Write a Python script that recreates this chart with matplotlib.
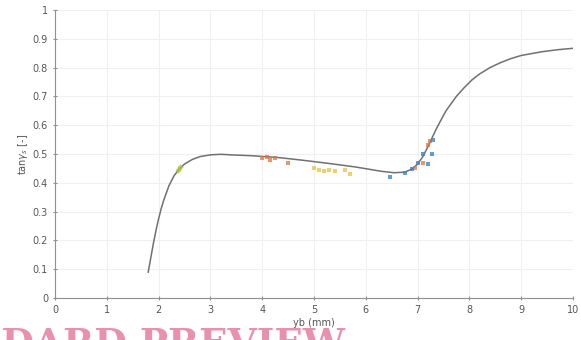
import matplotlib.pyplot as plt

# model curve
curve_x = [1.80, 1.85, 1.90, 1.95, 2.00, 2.05, 2.10, 2.15, 2.20, 2.30, 2.40, 2.50, 2.65, 2.8, 3.0, 3.2, 3.4, 3.8, 4.3, 4.8, 5.3, 5.8, 6.3, 6.55, 6.75, 6.9, 7.0, 7.1, 7.2, 7.37, 7.55, 7.75, 7.9, 8.05, 8.2, 8.4, 8.6, 8.8, 9.0, 9.4, 9.7, 10.0]
curve_y = [0.09, 0.14, 0.19, 0.235, 0.275, 0.31, 0.34, 0.365, 0.39, 0.425, 0.448, 0.465, 0.481, 0.491, 0.497, 0.499, 0.497, 0.494, 0.488, 0.478, 0.467, 0.455, 0.44, 0.435, 0.437, 0.448, 0.465, 0.49, 0.525, 0.59, 0.65, 0.70, 0.73, 0.757, 0.778, 0.800, 0.817, 0.831, 0.842, 0.855, 0.862, 0.867]

# measured points
green_x = [2.38, 2.42]
green_y = [0.445, 0.455]
orange_x = [4.0, 4.1, 4.15, 4.25, 4.5, 6.95, 7.1, 7.2, 7.25]
orange_y = [0.485, 0.49, 0.48, 0.485, 0.47, 0.45, 0.47, 0.53, 0.545]
yellow_x = [5.0, 5.1, 5.2, 5.3, 5.4, 5.6, 5.7]
yellow_y = [0.45, 0.445, 0.44, 0.445, 0.44, 0.445, 0.43]
blue_x = [6.47, 6.76, 6.89, 7.0, 7.1, 7.28, 7.3, 7.2]
blue_y = [0.42, 0.434, 0.448, 0.47, 0.50, 0.50, 0.55, 0.465]

fig = plt.figure(figsize=(5.81, 3.40), dpi=100)
ax = fig.add_axes([0.0947, 0.1235, 0.8913, 0.8471])

ax.plot(curve_x, curve_y, color="#707070", linewidth=1.1, zorder=2)
ax.scatter(green_x, green_y, s=10, marker="D", color="#A8C43A", alpha=0.8, zorder=3, linewidths=0)
ax.scatter(orange_x, orange_y, s=9, marker="s", color="#E8703A", alpha=0.75, zorder=3, linewidths=0)
ax.scatter(yellow_x, yellow_y, s=9, marker="s", color="#EDC040", alpha=0.75, zorder=3, linewidths=0)
ax.scatter(blue_x, blue_y, s=9, marker="s", color="#3A86D0", alpha=0.8, zorder=3, linewidths=0)

ax.set_xlim(0, 10)
ax.set_ylim(0, 1)
ax.set_xticks(range(0, 11))
ax.set_yticks([i / 10 for i in range(11)])
ax.set_yticklabels(["0", "0.1", "0.2", "0.3", "0.4", "0.5", "0.6", "0.7", "0.8", "0.9", "1"])
ax.grid(True, color="#f0f0f0", linewidth=0.8)
ax.set_axisbelow(True)
for side in ["top", "right"]:
    ax.spines[side].set_visible(False)
for side in ["left", "bottom"]:
    ax.spines[side].set_color("#909090")
ax.tick_params(colors="#909090", labelcolor="#555555", labelsize=7, length=3, direction="inout")

ax.set_xlabel("yb (mm)", fontsize=7, color="#555555", labelpad=2)
ax.set_ylabel(r"tan$\gamma_s$ [-]", fontsize=7, color="#555555", labelpad=2)

# watermark
fig.text(345 / 581, -0.07, "STANDARD PREVIEW", ha="right", va="bottom", fontsize=27,
         family="DejaVu Serif", fontweight="bold", color="#E891AE", zorder=0)

fig.savefig("out.png", dpi=100)
